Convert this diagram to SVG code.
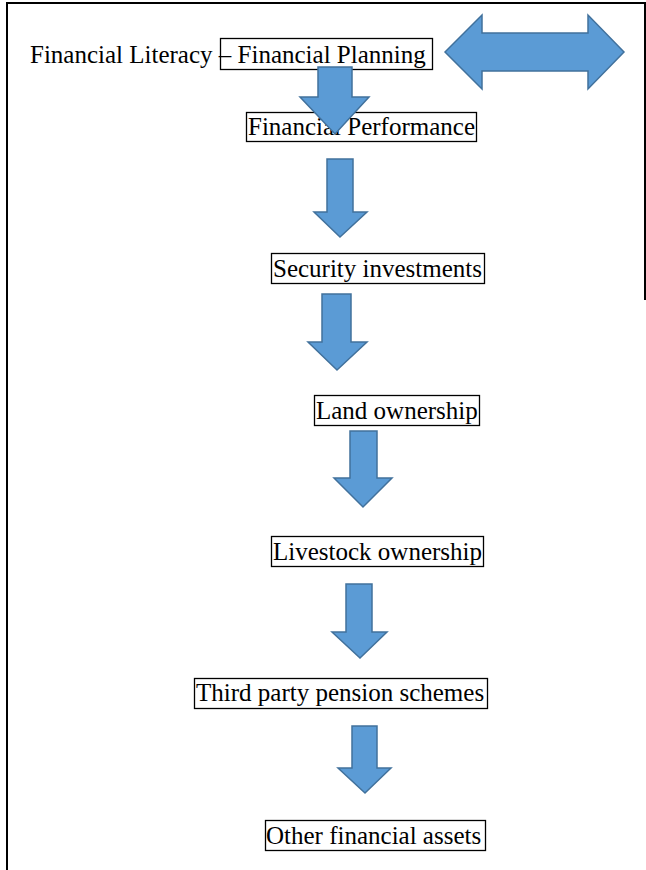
<svg xmlns="http://www.w3.org/2000/svg" width="646" height="870" viewBox="0 0 646 870">
<style>
.frame{stroke:#000;stroke-width:2;fill:none}
.box{fill:#fff;stroke:#000;stroke-width:1.3}
.lbl{font-family:"Liberation Serif","Times New Roman",serif;font-size:25px;fill:#000}
.arr{fill:#5B9BD5;stroke:#41719C;stroke-width:1.5;stroke-linejoin:miter}
</style>
<rect width="646" height="870" fill="#fff"/>
<g id="frame">
<line class="frame" x1="7" y1="3" x2="7" y2="870"/>
<line class="frame" x1="6" y1="3" x2="646" y2="3"/>
<line class="frame" x1="645" y1="3" x2="645" y2="300"/>
</g>
<g id="n-title">
<rect class="box" x="220.5" y="38.5" width="212" height="31"/>
<text class="lbl" x="30" y="63">Financial Literacy – Financial Planning</text>
</g>
<g id="n-performance">
<rect class="box" x="246.5" y="112.5" width="230" height="29"/>
<text class="lbl" x="248" y="135">Financial Performance</text>
</g>
<g id="n-security">
<rect class="box" x="271.5" y="253.5" width="213" height="30"/>
<text class="lbl" x="273" y="277">Security investments</text>
</g>
<g id="n-land">
<rect class="box" x="314.5" y="395.5" width="165" height="30"/>
<text class="lbl" x="316" y="419">Land ownership</text>
</g>
<g id="n-livestock">
<rect class="box" x="271.5" y="536.5" width="212" height="30"/>
<text class="lbl" x="273" y="560">Livestock ownership</text>
</g>
<g id="n-pension">
<rect class="box" x="194.5" y="678.5" width="293" height="30"/>
<text class="lbl" x="196" y="701">Third party pension schemes</text>
</g>
<g id="n-other">
<rect class="box" x="265.5" y="820.5" width="220" height="30"/>
<text class="lbl" x="266" y="844">Other financial assets</text>
</g>
<g id="connectors">
<polygon class="arr" points="445,52 482,15 482,33 588,33 588,15 624,52 588,89 588,71 482,71 482,89"/>
<polygon class="arr" points="318,67 352,67 352,97 369,97 335,134 300,97 318,97"/>
<polygon class="arr" points="327,159 353,159 353,212 367,212 340,237 314,212 327,212"/>
<polygon class="arr" points="322,294 351,294 351,342 367,342 337,370 308,342 322,342"/>
<polygon class="arr" points="350,431 377,431 377,478 392,478 363,507 334,478 350,478"/>
<polygon class="arr" points="346,584 372,584 372,632 387,632 360,658 332,632 346,632"/>
<polygon class="arr" points="352,726 377,726 377,768 391,768 365,793 338,768 352,768"/>
</g>
</svg>
